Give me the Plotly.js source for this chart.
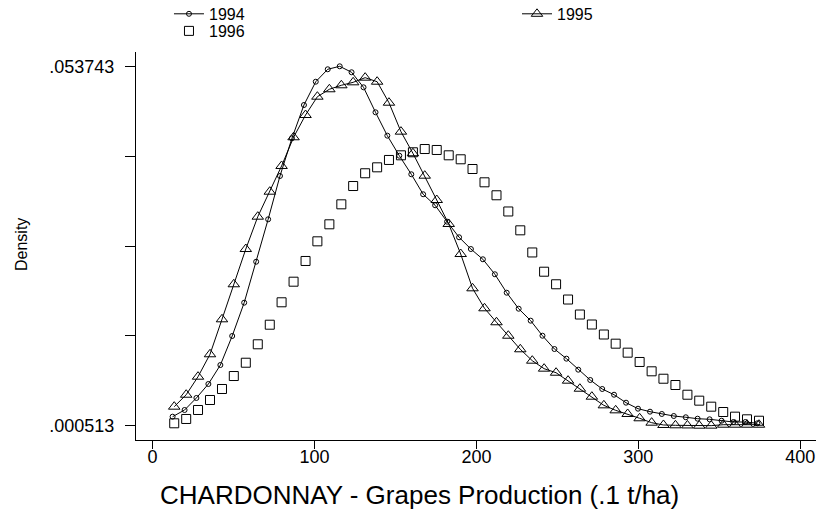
<!DOCTYPE html>
<html>
<head>
<meta charset="utf-8">
<script src="https://cdn.plot.ly/plotly-3.0.1.min.js"></script>
<style>
html,body{margin:0;padding:0;background:#fff;}
#chart{width:821px;height:517px;}
</style>
</head>
<body>
<div id="chart"></div>
<script>
// Grid of evaluation points (.1 t/ha)
var x1994 = [12.4,19.8,27.1,34.5,41.9,49.2,56.6,64.0,71.4,78.7,86.1,93.5,100.8,108.2,115.6,122.9,130.3,137.7,145.0,152.4,159.8,167.1,174.5,181.9,189.3,196.6,204.0,211.4,218.7,226.1,233.5,240.8,248.2,255.6,262.9,270.3,277.7,285.0,292.4,299.8,307.2,314.5,321.9,329.3,336.6,344.0,351.4,358.7,366.1,373.5];
var xGrid = [13.4,20.8,28.1,35.5,42.9,50.2,57.6,65.0,72.4,79.7,87.1,94.5,101.8,109.2,116.6,123.9,131.3,138.7,146.0,153.4,160.8,168.1,175.5,182.9,190.3,197.6,205.0,212.4,219.7,227.1,234.5,241.8,249.2,256.6,263.9,271.3,278.7,286.0,293.4,300.8,308.2,315.5,322.9,330.3,337.6,345.0,352.4,359.7,367.1,374.5];

// Kernel density estimates
var d1994 = [0.00185,0.00284,0.00462,0.00669,0.00950,0.01380,0.01873,0.02480,0.03108,0.03750,0.04308,0.04801,0.05146,0.05330,0.05374,0.05286,0.05063,0.04693,0.04347,0.04050,0.03775,0.03479,0.03316,0.03073,0.02842,0.02668,0.02516,0.02294,0.02021,0.01784,0.01607,0.01384,0.01187,0.01044,0.00881,0.00728,0.00595,0.00510,0.00392,0.00303,0.00259,0.00225,0.00195,0.00176,0.00155,0.00146,0.00125,0.00106,0.00106,0.00087];
var d1995 = [0.00333,0.00510,0.00777,0.01109,0.01627,0.02146,0.02668,0.03147,0.03517,0.03898,0.04323,0.04653,0.04924,0.05034,0.05093,0.05137,0.05206,0.05146,0.04835,0.04406,0.04086,0.03754,0.03394,0.03039,0.02594,0.02086,0.01790,0.01583,0.01384,0.01183,0.01014,0.00896,0.00836,0.00718,0.00599,0.00481,0.00353,0.00279,0.00225,0.00161,0.00096,0.00062,0.00057,0.00055,0.000513,0.00052,0.00066,0.00066,0.00066,0.00066];
var d1996 = [0.00087,0.00151,0.00284,0.00432,0.00595,0.00787,0.00984,0.01257,0.01547,0.01879,0.02184,0.02491,0.02782,0.03034,0.03330,0.03601,0.03790,0.03878,0.03987,0.04056,0.04101,0.04149,0.04135,0.04056,0.03997,0.03853,0.03656,0.03464,0.03224,0.02945,0.02617,0.02332,0.02146,0.01920,0.01698,0.01550,0.01402,0.01266,0.01133,0.00995,0.00857,0.00747,0.00654,0.00510,0.00422,0.00333,0.00254,0.00185,0.00146,0.00125];

var seriesNames = ["1994", "1995", "1996"];
var xTicks = [0, 100, 200, 300, 400];
var yTickVals = [0.000513, 0.013821, 0.027128, 0.040436, 0.053743];
var yTickText = [".000513", "", "", "", ".053743"];
var xTitle = "CHARDONNAY - Grapes Production (.1 t/ha)";
var yTitle = "Density";

var FONT = "Liberation Sans, Arial, Helvetica, sans-serif";

var traces = [
  {x: x1994, y: d1994, name: seriesNames[0], type: "scatter", mode: "lines+markers", legend: "legend",
   line: {color: "#000", width: 1},
   marker: {symbol: "circle-open", size: 5, color: "#000", line: {color: "#000", width: 1}}},
  {x: xGrid, y: d1995, name: seriesNames[1], type: "scatter", mode: "lines+markers", legend: "legend2",
   line: {color: "#000", width: 1},
   marker: {symbol: "triangle-up-open", size: 10, color: "#000", line: {color: "#000", width: 1}}},
  {x: xGrid, y: d1996, name: seriesNames[2], type: "scatter", mode: "markers", legend: "legend3",
   marker: {symbol: "square-open", size: 9, color: "#000", line: {color: "#000", width: 1}}}
];

function legendAt(x, y) {
  return {
    orientation: "v", x: x, xanchor: "left", y: y, yanchor: "top",
    font: {family: FONT, size: 16, color: "#000"},
    bgcolor: "rgba(0,0,0,0)", borderwidth: 0
  };
}

var layout = {
  width: 821, height: 517,
  margin: {l: 136, r: 5, t: 52, b: 77, pad: 0, autoexpand: false},
  paper_bgcolor: "#fff", plot_bgcolor: "#fff",
  font: {family: FONT, color: "#000", size: 18},
  showlegend: true,
  legend: legendAt(0.0485, 1.142),
  legend2: legendAt(0.5603, 1.142),
  legend3: legendAt(0.0485, 1.098),
  xaxis: {
    range: [-10.2, 409.7], tickvals: xTicks, ticktext: xTicks.map(String),
    ticks: "outside", ticklen: 8, tickwidth: 1, tickcolor: "#000",
    ticklabelstandoff: -8,
    showline: true, linecolor: "#000", linewidth: 1, mirror: false,
    showgrid: false, zeroline: false,
    tickfont: {family: FONT, size: 18, color: "#000"}
  },
  yaxis: {
    range: [-0.001605, 0.05586], tickvals: yTickVals, ticktext: yTickText,
    ticks: "outside", ticklen: 10, tickwidth: 1, tickcolor: "#000",
    ticklabelstandoff: 7,
    showline: true, linecolor: "#000", linewidth: 1, mirror: false,
    showgrid: false, zeroline: false,
    tickfont: {family: FONT, size: 18, color: "#000"}
  },
  annotations: [
    {text: xTitle, xref: "paper", yref: "paper", x: 0.4176, y: 0, yshift: -55,
     xanchor: "center", yanchor: "middle", showarrow: false,
     font: {family: FONT, size: 26, color: "#000"}},
    {text: yTitle, xref: "paper", yref: "paper", x: -0.1676, y: 0.5026,
     xanchor: "center", yanchor: "middle", textangle: -90, showarrow: false,
     font: {family: FONT, size: 16, color: "#000"}}
  ]
};

Plotly.newPlot("chart", traces, layout, {displayModeBar: false, staticPlot: true});
</script>
</body>
</html>
